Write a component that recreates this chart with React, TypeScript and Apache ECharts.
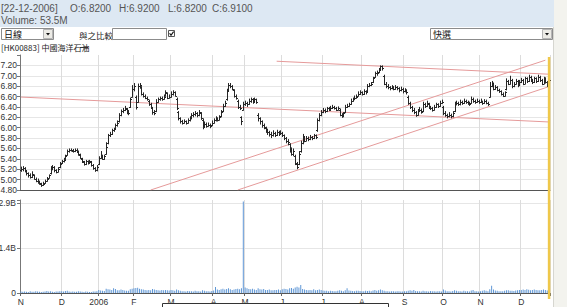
import React, { useEffect, useRef } from "react";
import * as echarts from "echarts";

// ---------- data ----------
const monthKeys = ["2005-11", "2005-12", "2006-01", "2006-02", "2006-03", "2006-04", "2006-05", "2006-06", "2006-07", "2006-08", "2006-09", "2006-10", "2006-11", "2006-12"];
const monthTickLabels = ["N", "D", "2006", "F", "M", "A", "M", "J", "J", "A", "S", "O", "N", "D"];

// [open, high, low, close]
const ohlcNov05 = [[5.18,5.25,5.15,5.20],[5.20,5.26,5.16,5.22],[5.22,5.24,5.14,5.18],[5.16,5.18,5.08,5.12],[5.12,5.14,5.04,5.08],[5.08,5.12,5.02,5.06],[5.05,5.16,5.03,5.10],[5.08,5.10,5.00,5.02],[5.02,5.04,4.95,4.98],[4.98,5.02,4.92,4.95],[4.95,4.98,4.90,4.93],[4.92,4.94,4.86,4.90],[4.90,4.96,4.88,4.92],[4.94,5.00,4.92,4.98],[4.98,5.05,4.96,5.02],[5.04,5.10,5.02,5.08],[5.12,5.26,5.10,5.22],[5.22,5.28,5.18,5.25],[5.24,5.26,5.14,5.18],[5.18,5.20,5.12,5.15],[5.15,5.24,5.14,5.20],[5.24,5.34,5.22,5.30]];
const ohlcDec05 = [[5.32,5.38,5.30,5.35],[5.35,5.42,5.33,5.38],[5.40,5.48,5.38,5.45],[5.48,5.58,5.46,5.55],[5.55,5.60,5.52,5.58],[5.58,5.60,5.54,5.57],[5.56,5.59,5.52,5.55],[5.55,5.60,5.53,5.58],[5.58,5.60,5.52,5.55],[5.54,5.56,5.46,5.50],[5.48,5.50,5.40,5.42],[5.40,5.42,5.32,5.35],[5.34,5.36,5.27,5.30],[5.30,5.38,5.28,5.36],[5.35,5.37,5.29,5.32],[5.32,5.38,5.30,5.35],[5.34,5.36,5.25,5.28],[5.28,5.30,5.19,5.22],[5.22,5.24,5.15,5.18],[5.18,5.28,5.16,5.25]];
const ohlcJan06 = [[5.30,5.45,5.28,5.42],[5.42,5.55,5.40,5.48],[5.46,5.48,5.38,5.40],[5.40,5.48,5.38,5.45],[5.50,5.72,5.48,5.62],[5.70,5.88,5.68,5.85],[5.85,5.92,5.82,5.88],[5.88,5.98,5.86,5.95],[5.95,6.00,5.92,5.98],[5.98,6.08,5.96,6.05],[6.05,6.14,6.02,6.10],[6.12,6.28,6.10,6.25],[6.25,6.35,6.22,6.32],[6.32,6.38,6.28,6.35],[6.35,6.42,6.32,6.38],[6.36,6.38,6.26,6.30],[6.30,6.34,6.24,6.28],[6.40,6.58,6.38,6.55],[6.60,6.82,6.58,6.75]];
const ohlcFeb06 = [[6.75,6.86,6.70,6.80],[6.60,6.62,6.35,6.40],[6.50,6.85,6.48,6.80],[6.80,6.86,6.75,6.82],[6.78,6.80,6.62,6.65],[6.65,6.68,6.58,6.62],[6.62,6.64,6.55,6.58],[6.58,6.60,6.52,6.55],[6.52,6.54,6.42,6.45],[6.45,6.48,6.36,6.40],[6.38,6.40,6.25,6.30],[6.30,6.34,6.24,6.28],[6.32,6.55,6.30,6.50],[6.50,6.58,6.48,6.55],[6.55,6.60,6.52,6.58],[6.58,6.60,6.52,6.55],[6.55,6.64,6.54,6.60],[6.62,6.72,6.60,6.68],[6.66,6.68,6.55,6.58],[6.58,6.64,6.56,6.60]];
const ohlcMar06 = [[6.60,6.70,6.58,6.65],[6.65,6.72,6.62,6.68],[6.68,6.70,6.60,6.62],[6.55,6.58,6.34,6.38],[6.30,6.32,6.14,6.18],[6.18,6.20,6.08,6.12],[6.12,6.15,6.06,6.10],[6.10,6.16,6.08,6.12],[6.12,6.14,6.06,6.10],[6.10,6.18,6.08,6.14],[6.14,6.22,6.12,6.18],[6.18,6.28,6.16,6.24],[6.24,6.30,6.20,6.26],[6.26,6.32,6.22,6.28],[6.28,6.30,6.20,6.24],[6.24,6.34,6.22,6.30],[6.28,6.30,6.15,6.18],[6.15,6.18,5.97,6.02],[6.02,6.12,6.00,6.08],[6.08,6.10,6.00,6.04],[6.04,6.10,6.02,6.06],[6.06,6.08,5.99,6.03],[6.05,6.14,6.03,6.10]];
const ohlcApr06 = [[6.10,6.18,6.08,6.15],[6.15,6.22,6.12,6.18],[6.18,6.20,6.12,6.15],[6.15,6.24,6.14,6.20],[6.22,6.34,6.20,6.30],[6.32,6.46,6.30,6.42],[6.42,6.52,6.40,6.48],[6.55,6.75,6.52,6.70],[6.72,6.86,6.70,6.82],[6.82,6.86,6.76,6.80],[6.80,6.82,6.72,6.75],[6.72,6.74,6.58,6.62],[6.62,6.64,6.54,6.58],[6.52,6.54,6.36,6.40],[6.40,6.44,6.34,6.38],[6.20,6.22,6.05,6.12],[6.35,6.50,6.33,6.45]];
const ohlcMay06 = [[6.45,6.52,6.42,6.48],[6.48,6.50,6.40,6.45],[6.45,6.56,6.44,6.52],[6.52,6.58,6.48,6.55],[6.55,6.57,6.46,6.50],[6.50,6.58,6.48,6.55],[6.55,6.56,6.46,6.50],[6.25,6.28,6.12,6.18],[6.18,6.20,6.06,6.12],[6.12,6.14,6.00,6.05],[6.05,6.08,5.97,6.02],[6.00,6.02,5.90,5.95],[5.95,5.98,5.86,5.92],[5.92,5.94,5.83,5.88],[5.88,5.92,5.80,5.85],[5.85,5.95,5.83,5.90],[5.90,5.92,5.82,5.86],[5.86,5.96,5.84,5.92],[5.92,5.94,5.84,5.88],[5.88,5.95,5.86,5.90]];
const ohlcJun06 = [[5.90,5.92,5.82,5.85],[5.85,5.87,5.76,5.80],[5.80,5.82,5.70,5.75],[5.75,5.78,5.66,5.72],[5.68,5.70,5.52,5.58],[5.58,5.62,5.46,5.50],[5.50,5.60,5.45,5.55],[5.45,5.48,5.28,5.32],[5.30,5.34,5.20,5.25],[5.30,5.55,5.28,5.50],[5.55,5.75,5.52,5.70],[5.70,5.88,5.68,5.82],[5.80,5.84,5.72,5.75],[5.75,5.84,5.74,5.80],[5.80,5.83,5.74,5.78],[5.78,5.86,5.76,5.82],[5.82,5.84,5.76,5.80],[5.80,5.88,5.78,5.85],[5.85,5.87,5.78,5.82],[5.95,6.18,5.92,6.15],[6.15,6.28,6.12,6.25],[6.25,6.34,6.22,6.30]];
const ohlcJul06 = [[6.30,6.38,6.28,6.35],[6.35,6.37,6.28,6.32],[6.32,6.40,6.30,6.38],[6.38,6.40,6.32,6.35],[6.35,6.42,6.33,6.38],[6.38,6.44,6.36,6.40],[6.40,6.42,6.35,6.38],[6.38,6.40,6.32,6.35],[6.35,6.41,6.33,6.38],[6.35,6.37,6.22,6.25],[6.25,6.28,6.19,6.22],[6.22,6.30,6.20,6.28],[6.30,6.44,6.28,6.40],[6.40,6.46,6.38,6.42],[6.42,6.48,6.40,6.45],[6.46,6.56,6.44,6.52],[6.52,6.58,6.50,6.55],[6.55,6.62,6.53,6.58],[6.58,6.64,6.56,6.60],[6.62,6.70,6.60,6.65],[6.65,6.72,6.63,6.68]];
const ohlcAug06 = [[6.68,6.70,6.62,6.65],[6.65,6.74,6.63,6.70],[6.70,6.72,6.64,6.68],[6.70,6.84,6.68,6.80],[6.80,6.86,6.78,6.82],[6.82,6.88,6.80,6.85],[6.88,6.98,6.86,6.95],[6.98,7.08,6.96,7.05],[7.05,7.10,7.00,7.05],[7.08,7.15,7.05,7.12],[7.12,7.20,7.10,7.18],[7.18,7.20,7.10,7.15],[7.00,7.02,6.82,6.85],[6.85,6.88,6.76,6.80],[6.80,6.84,6.74,6.78],[6.78,6.80,6.72,6.76],[6.76,6.82,6.74,6.78],[6.78,6.80,6.72,6.75],[6.75,6.82,6.73,6.78],[6.78,6.80,6.72,6.76],[6.76,6.78,6.68,6.72],[6.72,6.79,6.70,6.75],[6.75,6.77,6.66,6.70]];
const ohlcSep06 = [[6.70,6.76,6.68,6.72],[6.72,6.74,6.64,6.68],[6.60,6.62,6.44,6.48],[6.48,6.50,6.36,6.40],[6.40,6.42,6.30,6.35],[6.35,6.38,6.26,6.30],[6.30,6.32,6.21,6.25],[6.25,6.36,6.23,6.32],[6.32,6.40,6.30,6.35],[6.35,6.37,6.27,6.30],[6.32,6.50,6.30,6.45],[6.45,6.48,6.38,6.42],[6.42,6.52,6.40,6.48],[6.46,6.48,6.36,6.40],[6.40,6.42,6.34,6.38],[6.38,6.40,6.31,6.35],[6.35,6.44,6.33,6.40],[6.40,6.48,6.38,6.45],[6.45,6.47,6.38,6.42],[6.42,6.52,6.40,6.48],[6.48,6.54,6.46,6.50]];
const ohlcOct06 = [[6.40,6.42,6.24,6.28],[6.28,6.32,6.21,6.25],[6.25,6.27,6.18,6.22],[6.22,6.30,6.20,6.25],[6.25,6.27,6.18,6.22],[6.22,6.32,6.20,6.28],[6.32,6.50,6.30,6.45],[6.45,6.52,6.43,6.48],[6.48,6.50,6.42,6.45],[6.45,6.54,6.43,6.50],[6.50,6.52,6.44,6.48],[6.48,6.56,6.46,6.52],[6.52,6.54,6.46,6.50],[6.50,6.52,6.44,6.48],[6.48,6.50,6.42,6.45],[6.48,6.60,6.46,6.55],[6.55,6.58,6.48,6.52],[6.52,6.54,6.46,6.50],[6.50,6.56,6.48,6.52],[6.52,6.54,6.46,6.50]];
const ohlcNov06 = [[6.50,6.56,6.48,6.50],[6.50,6.52,6.44,6.48],[6.48,6.55,6.46,6.52],[6.52,6.54,6.45,6.48],[6.48,6.50,6.42,6.45],[6.60,6.88,6.58,6.80],[6.80,6.90,6.78,6.85],[6.85,6.87,6.72,6.75],[6.75,6.82,6.73,6.78],[6.78,6.80,6.70,6.72],[6.72,6.75,6.67,6.70],[6.70,6.72,6.62,6.65],[6.65,6.68,6.59,6.62],[6.62,6.70,6.60,6.68],[6.75,6.95,6.72,6.90],[6.90,6.92,6.82,6.85],[6.85,7.00,6.83,6.92],[6.92,6.94,6.76,6.80],[6.80,6.88,6.78,6.85],[6.85,6.94,6.83,6.90],[6.90,6.92,6.78,6.82],[6.82,6.92,6.80,6.88]];
const ohlcDec06 = [[6.88,6.96,6.86,6.92],[6.92,6.94,6.82,6.85],[6.85,6.98,6.84,6.95],[6.95,6.97,6.86,6.90],[6.90,7.02,6.88,6.98],[6.98,7.00,6.88,6.92],[6.92,6.94,6.84,6.88],[6.88,6.98,6.86,6.95],[6.95,6.97,6.86,6.90],[6.90,7.02,6.88,6.98],[6.98,7.00,6.88,6.92],[6.92,6.94,6.82,6.85],[6.85,6.98,6.84,6.95],[6.95,6.97,6.85,6.88],[6.88,6.90,6.78,6.82],[6.82,6.92,6.82,6.91]];

// daily volume, millions of shares
const volNov05 = [45,38,52,40,35,60,42,38,55,48,40,36,44,50,62,45,58,40,35,48,52,60];
const volDec05 = [55,48,62,70,45,40,52,38,44,60,50,42,36,48,40,35,30,45,52,58];
const volJan06 = [95,80,70,65,140,120,110,95,150,130,90,85,110,100,80,75,70,120,140];
const volFeb06 = [150,160,170,140,120,110,100,90,95,85,130,110,100,90,80,95,85,100,90,80];
const volMar06 = [95,85,70,110,90,75,60,55,50,65,60,55,50,70,60,55,50,90,75,60,55,50,65];
const volApr06 = [80,190,110,95,120,140,110,130,150,120,100,110,130,140,120,150,2950];
const volMay06 = [180,150,130,120,140,110,100,150,120,110,130,100,95,110,90,85,100,95,110,90];
const volJun06 = [120,140,130,110,150,160,140,180,200,180,260,130,110,100,90,95,85,120,90,100,110,95];
const volJul06 = [80,70,75,60,70,65,60,55,70,85,75,60,90,150,80,70,65,60,75,70,65];
const volAug06 = [60,55,70,65,75,60,80,95,70,85,110,90,75,60,55,50,60,55,50,60,55,50,45];
const volSep06 = [60,55,70,90,75,100,65,60,55,50,70,60,55,50,65,60,55,50,60,55,50];
const volOct06 = [110,80,60,55,50,65,90,70,60,55,50,70,60,55,50,80,95,60,55,50];
const volNov06 = [60,75,90,70,60,120,230,110,80,70,60,55,60,70,90,85,75,70,65,80,90,95];
const volDec06 = [100,110,95,120,105,90,100,115,95,85,90,100,110,95,80,53.5];

// hand-drawn trend lines: [dayIndex, price] end points
const trendLineA = [[0, 6.59], [285, 6.11]];
const trendLineB = [[138, 7.28], [285, 7.03]];
const trendLineC = [[70, 4.80], [283, 7.30]];
const trendLineD = [[117, 4.80], [284, 6.78]];

const priceTicks = { min: 4.8, max: 7.4, step: 0.2 };
const volTickValues = [0, 1.45e9, 2.9e9];
const volTickLabels = ["0", "1.4B", "2.9B"];

const headerQuote = ["[22-12-2006]", "O:6.8200", "H:6.9200", "L:6.8200", "C:6.9100"];
const headerVolume = "Volume: 53.5M";
const stockTitle = "[HK00883] 中國海洋石油";

// ---------- derived tables ----------
const ohlcByMonth = [ohlcNov05, ohlcDec05, ohlcJan06, ohlcFeb06, ohlcMar06, ohlcApr06, ohlcMay06, ohlcJun06, ohlcJul06, ohlcAug06, ohlcSep06, ohlcOct06, ohlcNov06, ohlcDec06];
const volByMonth = [volNov05, volDec05, volJan06, volFeb06, volMar06, volApr06, volMay06, volJun06, volJul06, volAug06, volSep06, volOct06, volNov06, volDec06];

const categories: string[] = [];
const monthStartLabel = new Map<number, string>();
ohlcByMonth.forEach((m, mi) => {
  monthStartLabel.set(categories.length, monthTickLabels[mi]);
  m.forEach((_, k) => categories.push(`${monthKeys[mi]} #${k + 1}`));
});
const ohlcData = ohlcByMonth.flat().map((d, i) => [i, d[0], d[1], d[2], d[3]]);
const volData = volByMonth.flat().map((v) => v * 1e6);
const lastIndex = categories.length - 1;
const isMonthStart = (i: number) => monthStartLabel.has(i);

const SANS = "'Liberation Sans', Arial, sans-serif";
const CJK = "'Noto Sans CJK TC', 'Noto Sans CJK SC', sans-serif";

function selectBox(id: string, x: number, y: number, w: number, label: string) {
  return [
    { id: id + "-box", type: "rect", shape: { x: x + 0.5, y: y + 0.5, width: w, height: 11 }, style: { fill: "#fff", stroke: "#8c8c8c", lineWidth: 1 }, z: 10 },
    { id: id + "-btn", type: "rect", shape: { x: x + w - 9.5, y: y + 1.5, width: 9, height: 9 }, style: { fill: "#ecebe6", stroke: "#b5b5b5", lineWidth: 1 }, z: 11 },
    { id: id + "-arr", type: "polygon", shape: { points: [[x + w - 7, y + 5], [x + w - 3, y + 5], [x + w - 5, y + 7.5]] }, style: { fill: "#111" }, z: 12 },
    { id: id + "-txt", type: "text", x: x + 3, y: y + 6.5, style: { text: label, font: `9px ${CJK}`, fill: "#111", verticalAlign: "middle" }, z: 12 },
  ];
}

export default function App() {
  const ref = useRef<HTMLDivElement>(null);
  useEffect(() => {
    if (!ref.current) return;
    const chart = echarts.init(ref.current, null, { renderer: "svg" });

    const trendSeries = [trendLineA, trendLineB, trendLineC, trendLineD].map((pts, k) => ({
      name: "trend" + k,
      type: "line",
      xAxisIndex: 0,
      yAxisIndex: 0,
      data: pts,
      symbol: "none",
      silent: true,
      z: 2,
      lineStyle: { color: "#e59a9a", width: 1 },
    }));

    const quoteX = [1, 70, 119, 168, 212];

    const graphics: any[] = [
      { id: "hdr", type: "rect", shape: { x: 0, y: 0, width: 555, height: 27 }, style: { fill: "#dde8f3" }, z: 1 },
      { id: "strip", type: "rect", shape: { x: 554, y: 0, width: 13, height: 307 }, style: { fill: "#f3f3ee" }, z: 1 },
      { id: "strip-l", type: "line", shape: { x1: 553.5, y1: 27, x2: 553.5, y2: 307 }, style: { stroke: "#d6d6d0", lineWidth: 1 }, z: 2 },
      ...headerQuote.map((t, k) => ({ id: "q" + k, type: "text", x: quoteX[k], y: 8, style: { text: t, font: `10px ${SANS}`, fill: "#555", verticalAlign: "middle" }, z: 5 })),
      { id: "vol", type: "text", x: 1, y: 20, style: { text: headerVolume, font: `10px ${SANS}`, fill: "#555", verticalAlign: "middle" }, z: 5 },
      ...selectBox("s1", 1, 28, 52, "日線"),
      { id: "cmp", type: "text", x: 79, y: 34.5, style: { text: "與之比較", font: `8.5px ${CJK}`, fill: "#222", verticalAlign: "middle" }, z: 5 },
      { id: "inp", type: "rect", shape: { x: 112.5, y: 28.5, width: 54, height: 11 }, style: { fill: "#fff", stroke: "#8c8c8c", lineWidth: 1 }, z: 5 },
      { id: "chk", type: "rect", shape: { x: 168.5, y: 30.5, width: 6, height: 6 }, style: { fill: "#fff", stroke: "#555", lineWidth: 1 }, z: 5 },
      { id: "chkm", type: "polyline", shape: { points: [[169.6, 33.2], [171, 35.2], [173.6, 31.6]] }, style: { stroke: "#111", lineWidth: 1.1, fill: null }, z: 6 },
      ...selectBox("s2", 430, 28, 122, "快選"),
      { id: "title", type: "text", x: 1, y: 47.5, style: { text: stockTitle, font: `8px ${CJK}`, fill: "#222", verticalAlign: "middle" }, z: 5 },
      { id: "leg1", type: "line", shape: { x1: 80, y1: 47.5, x2: 88, y2: 47.5 }, style: { stroke: "#333", lineWidth: 1 }, z: 5 },
      { id: "leg2", type: "line", shape: { x1: 84, y1: 45.5, x2: 84, y2: 49.5 }, style: { stroke: "#333", lineWidth: 1 }, z: 5 },
      { id: "tipbox", type: "rect", shape: { x: 162.5, y: 303.5, width: 226, height: 8 }, style: { fill: "#fff", stroke: "#333", lineWidth: 1 }, z: 20 },
    ];

    const option: any = {
      animation: false,
      grid: [
        { left: 20, right: 17, top: 55, height: 135, containLabel: false, outerBoundsMode: "none" },
        { left: 20, right: 17, top: 200, height: 93, containLabel: false, outerBoundsMode: "none" },
      ],
      xAxis: [
        {
          type: "category", gridIndex: 0, data: categories, boundaryGap: true,
          axisLabel: { show: false }, axisTick: { show: false },
          axisLine: { lineStyle: { color: "#555", width: 1 } },
          splitLine: { show: true, interval: (i: number) => isMonthStart(i), lineStyle: { color: "#dcdcdc", width: 1 } },
        },
        {
          type: "category", gridIndex: 1, data: categories, boundaryGap: true,
          axisLabel: {
            interval: (i: number) => isMonthStart(i),
            formatter: (_v: string, i: number) => monthStartLabel.get(i) ?? "",
            fontSize: 8.5, color: "#333", fontFamily: SANS, margin: 4,
          },
          axisTick: { show: true, interval: (i: number) => isMonthStart(i), length: 3, lineStyle: { color: "#666" } },
          axisLine: { lineStyle: { color: "#555", width: 1 } },
          splitLine: { show: true, interval: (i: number) => isMonthStart(i), lineStyle: { color: "#dcdcdc", width: 1 } },
        },
      ],
      yAxis: [
        {
          type: "value", gridIndex: 0, min: priceTicks.min, max: priceTicks.max, interval: priceTicks.step,
          axisLabel: {
            formatter: (v: number) => (v > 7.3 ? "" : v.toFixed(2)),
            fontSize: 8.5, color: "#333", fontFamily: SANS, margin: 3,
          },
          axisLine: { show: true, lineStyle: { color: "#777" } },
          axisTick: { show: true, length: 3, lineStyle: { color: "#777" } },
          splitLine: { show: true, showMinLine: false, showMaxLine: false, lineStyle: { color: "#e6e6e6" } },
        },
        {
          type: "value", gridIndex: 1, min: 0, max: 3.0e9, interval: 1.45e9,
          axisLabel: {
            formatter: (v: number) => {
              const k = volTickValues.findIndex((t) => Math.abs(t - v) < 1e6);
              return k >= 0 ? volTickLabels[k] : "";
            },
            fontSize: 8.5, color: "#333", fontFamily: SANS, margin: 4,
          },
          axisLine: { show: true, lineStyle: { color: "#777" } },
          axisTick: { show: true, length: 3, lineStyle: { color: "#777" } },
          splitLine: { show: true, showMinLine: false, showMaxLine: false, lineStyle: { color: "#e6e6e6" } },
        },
      ],
      series: [
        ...trendSeries,
        {
          name: "HK00883",
          type: "custom",
          xAxisIndex: 0,
          yAxisIndex: 0,
          silent: true,
          z: 3,
          data: ohlcData,
          encode: { x: 0, y: [1, 2, 3, 4] },
          renderItem: (_p: any, api: any) => {
            const i = api.value(0);
            const pO = api.coord([i, api.value(1)]);
            const pH = api.coord([i, api.value(2)]);
            const pL = api.coord([i, api.value(3)]);
            const pC = api.coord([i, api.value(4)]);
            const x = Math.round(pH[0]) + 0.5;
            const yO = Math.round(pO[1]) + 0.5;
            const yC = Math.round(pC[1]) + 0.5;
            const st = { stroke: "#262626", lineWidth: 1 };
            return {
              type: "group",
              children: [
                { type: "line", shape: { x1: x, y1: pH[1], x2: x, y2: Math.max(pL[1], pH[1] + 2) }, style: st },
                { type: "line", shape: { x1: x - 1.5, y1: yO, x2: x, y2: yO }, style: st },
                { type: "line", shape: { x1: x, y1: yC, x2: x + 1.5, y2: yC }, style: st },
              ],
            };
          },
        },
        {
          name: "Volume",
          type: "bar",
          xAxisIndex: 1,
          yAxisIndex: 1,
          data: volData,
          barWidth: 1,
          silent: true,
          itemStyle: { color: "#5f97d6" },
        },
      ],
      graphic: graphics,
    };

    chart.setOption(option);
    const xCursor = chart.convertToPixel({ xAxisIndex: 0 }, lastIndex) as number;
    if (typeof xCursor === "number" && isFinite(xCursor)) {
      chart.setOption({
        graphic: [
          ...graphics,
          { id: "cursor", type: "line", shape: { x1: xCursor, y1: 57, x2: xCursor, y2: 299 }, style: { stroke: "#efc84a", lineWidth: 2.5 }, z: 50 },
        ],
      });
    }
    return () => chart.dispose();
  }, []);

  return <div ref={ref} style={{ position: "absolute", left: 0, top: 0, width: 567, height: 307, background: "#fff" }} />;
}
